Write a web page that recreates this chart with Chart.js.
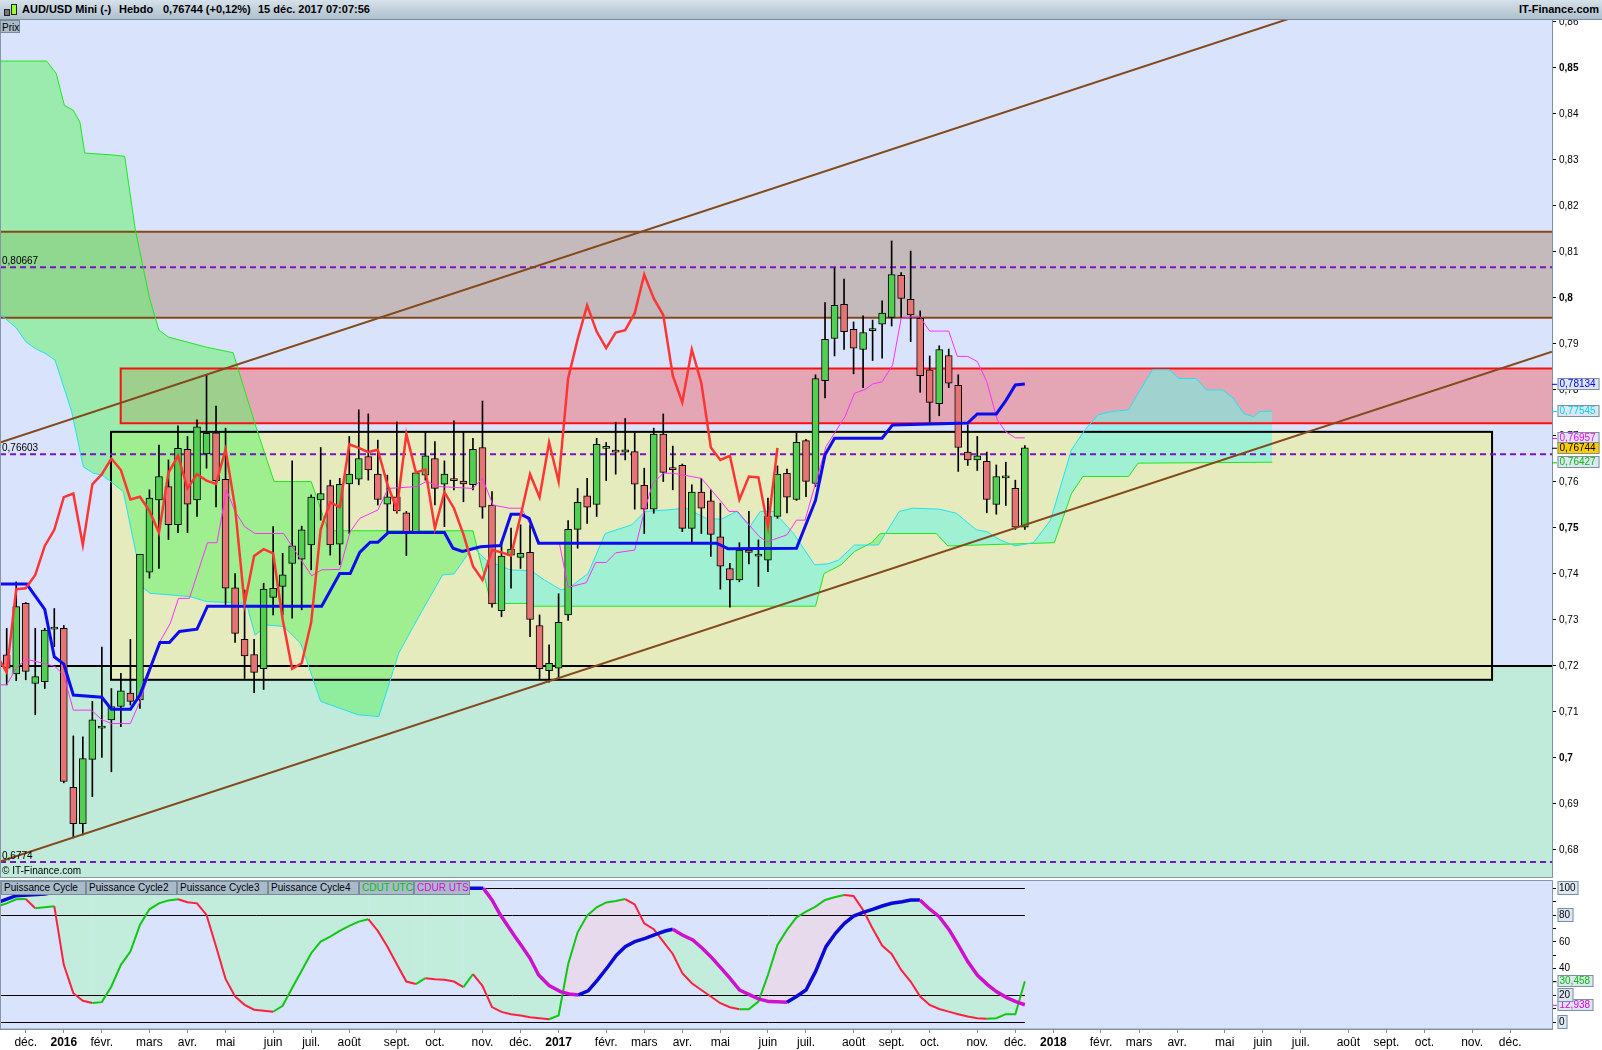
<!DOCTYPE html>
<html lang="fr">
<head>
<meta charset="utf-8">
<title>AUD/USD Mini - Hebdo</title>
<script src="https://cdn.jsdelivr.net/npm/chart.js@4.4.1/dist/chart.umd.min.js"></script>
<style>
  body { margin: 0; width: 1602px; height: 1050px; background: #fff; position: relative; overflow: hidden;
         font-family: "Liberation Sans", Arial, sans-serif; }
  #header { position: absolute; left: 0; top: 0; width: 1602px; height: 19px; border-bottom: 1px solid #7b8d9c;
            background: linear-gradient(#d6e1ea, #aebfcc); font-weight: bold; font-size: 11px; }
  #header span { position: absolute; top: 3px; white-space: nowrap; line-height: 13px; }
  .ico { position: absolute; border: 1px solid #222; }
  #prix { position: absolute; left: 0; top: 20px; width: 20px; height: 13px; background: #aabbc9; border: 1px solid #7a8c9b;
          font-size: 10px; line-height: 13px; padding-left: 1px; box-sizing: border-box; }
  canvas { position: absolute; left: 0; }
  #price { top: 20px; }
  #sep { position: absolute; left: 0; top: 877px; width: 1553px; height: 1px; background: #8596a5; }
  #cycle { top: 879px; }
  .leg { position: absolute; top: 881px; height: 14px; background: #a9bbc9; border: 1px solid #7a8c9b; box-sizing: border-box;
         font-size: 10px; line-height: 12px; padding-left: 2px; white-space: nowrap; }
</style>
</head>
<body>
<div id="header">
  <div class="ico" style="left:4px;top:9px;width:4px;height:5px;background:#777;"></div>
  <div class="ico" style="left:11px;top:4px;width:4px;height:9px;background:#9f3;"></div>
  <span style="left:22px;">AUD/USD Mini (-)</span>
  <span style="left:119px;">Hebdo</span>
  <span style="left:163px;">0,76744 (+0,12%)</span>
  <span style="left:258px;">15 déc. 2017 07:07:56</span>
  <span style="right:3px;">IT-Finance.com</span>
</div>
<canvas id="price" width="1602" height="857"></canvas>
<div id="prix">Prix</div>
<div id="sep"></div>
<canvas id="cycle" width="1602" height="171"></canvas>
<div class="leg" style="left:1px;width:85px;">Puissance Cycle</div>
<div class="leg" style="left:86px;width:91px;">Puissance Cycle2</div>
<div class="leg" style="left:177px;width:91px;">Puissance Cycle3</div>
<div class="leg" style="left:268px;width:91px;">Puissance Cycle4</div>
<div class="leg" style="left:359px;width:55px;color:#00c000;">CDUT UTC</div>
<div class="leg" style="left:414px;width:56px;color:#e000e0;">CDUR UTS</div>
<script>
// weekly candles, week 0 = 4 janv. 2016, first candle = 23 nov. 2015
const FIRST_WEEK = -6;
const opens = [
  .7224, .7183, .7336, .7162, .7166, .7280, .7282, .6936, .6857, .6997, .7065, .7083, .7112, .7141, .7126, .7404,
  .7561, .7590, .7507, .7671, .7561, .7661, .7707, .7606, .7370, .7258, .7225, .7194, .7349, .7373, .7423, .7432,
  .7463, .7561, .7592, .7465, .7596, .7606, .7655, .7617, .7552, .7568, .7533, .7490, .7615, .7651, .7595, .7604,
  .7602, .7594, .7675, .7550, .7320, .7441, .7436, .7447, .7288, .7190, .7195, .7311, .7497, .7570, .7551, .7673,
  .7666, .7665, .7666, .7593, .7541, .7704, .7628, .7636, .7499, .7578, .7559, .7481, .7412, .7387, .7452, .7439,
  .7430, .7525, .7619, .7562, .7690, .7597, .7820, .7912, .7986, .7932, .7888, .7929, .7943, .7958, .8049, .7997,
  .7956, .7844, .7770, .7875, .7810, .7665, .7648, .7645, .7551, .7609, .7586, .7502
];
const highs = [
  .7282, .7383, .7338, .7282, .7282, .7325, .7288, .7048, .7046, .7123, .7241, .7151, .7184, .7258, .7443, .7583,
  .7680, .7648, .7722, .7699, .7735, .7833, .7765, .7717, .7401, .7365, .7258, .7380, .7503, .7445, .7646, .7504,
  .7572, .7675, .7604, .7608, .7699, .7757, .7748, .7691, .7615, .7731, .7536, .7620, .7709, .7688, .7646, .7733,
  .7709, .7695, .7776, .7579, .7470, .7500, .7507, .7507, .7311, .7246, .7357, .7516, .7586, .7608, .7695, .7686,
  .7730, .7738, .7707, .7630, .7717, .7748, .7678, .7639, .7594, .7608, .7583, .7554, .7423, .7468, .7536, .7474,
  .7565, .7635, .7628, .7707, .7693, .7833, .7990, .8065, .8041, .7948, .7961, .7952, .7994, .8124, .8055, .8102,
  .7972, .7874, .7896, .7889, .7833, .7724, .7699, .7665, .7637, .7643, .7604, .7679
];
const lows = [
  .7159, .7168, .7170, .7094, .7151, .7242, .6946, .6826, .6833, .6916, .7001, .6970, .7068, .7115, .7108, .7391,
  .7412, .7475, .7490, .7490, .7525, .7630, .7546, .7333, .7251, .7173, .7142, .7149, .7311, .7311, .7304, .7322,
  .7409, .7517, .7441, .7420, .7488, .7594, .7604, .7550, .7492, .7532, .7440, .7489, .7604, .7550, .7503, .7583,
  .7557, .7583, .7521, .7328, .7307, .7369, .7412, .7264, .7171, .7165, .7175, .7299, .7456, .7510, .7525, .7603,
  .7617, .7648, .7541, .7488, .7532, .7601, .7583, .7492, .7470, .7488, .7438, .7367, .7328, .7383, .7422, .7373,
  .7405, .7521, .7533, .7560, .7568, .7590, .7783, .7874, .7888, .7835, .7805, .7864, .7869, .7939, .7958, .7905,
  .7795, .7730, .7744, .7805, .7623, .7636, .7625, .7533, .7530, .7549, .7497, .7497
];
const closes = [
  .7195, .7329, .7188, .7177, .7278, .7284, .6949, .6857, .6999, .7083, .7067, .7112, .7146, .7123, .7443, .7565,
  .7612, .7507, .7673, .7552, .7720, .7706, .7603, .7369, .7271, .7222, .7186, .7367, .7369, .7398, .7461, .7496,
  .7567, .7575, .7463, .7595, .7617, .7651, .7626, .7562, .7568, .7537, .7490, .7620, .7657, .7586, .7617, .7603,
  .7596, .7671, .7545, .7335, .7439, .7454, .7445, .7301, .7194, .7206, .7295, .7497, .7556, .7545, .7682, .7674,
  .7665, .7670, .7595, .7541, .7704, .7621, .7627, .7499, .7578, .7543, .7486, .7417, .7387, .7452, .7447, .7440,
  .7526, .7617, .7567, .7686, .7601, .7825, .7910, .7984, .7927, .7891, .7925, .7930, .7967, .8051, .7999, .7963,
  .7831, .7773, .7888, .7815, .7675, .7648, .7657, .7562, .7612, .7610, .7502, .7674
];
const CHIKOU_SHIFT = 26;

// Ichimoku lines: [week, price]
const tenkan = [[-6.7,.7159],[-6,.7159],[-5,.7195],[-4,.7215],[-2,.7205],[-0.93,.7199],[0,.7180],[1,.7104],[2.9,.7104],
  [4,.7083],[5,.7075],[7,.7075],[8,.7123],[10.1,.7253],[11.2,.7293],[12.05,.7347],[13.2,.7347],[15.1,.7468],[16.1,.7468],
  [17.1,.7583],[18,.7536],[19,.7503],[20.1,.7488],[23.1,.7488],[26.05,.7396],[27.1,.7409],[29,.7410],[30.1,.7492],
  [31.1,.7521],[33,.7539],[34.1,.7586],[37.1,.7590],[38.1,.7601],[39.5,.7590],[43,.7586],[44,.7608],[45.1,.7550],
  [46.8,.7543],[48.1,.7543],[50.05,.7467],[52.08,.7467],[53,.7371],[54.9,.7381],[55.9,.7425],[57,.7425],[58,.7446],
  [60,.7452],[61,.7536],[61.9,.7597],[63,.7619],[64,.7619],[65.9,.7612],[67,.7608],[69.1,.7557],[69.9,.7536],[70.8,.7536],
  [73.1,.7481],[73.9,.7470],[76,.7485],[77,.7517],[77.9,.7517],[80.1,.7677],[82.1,.7742],[83.1,.7793],[84.2,.7801],
  [85,.7813],[86,.7818],[87.1,.7854],[88,.7956],[89.9,.7961],[91,.7928],[93,.7928],[93.9,.7873],[95,.7873],[96,.7862],
  [97,.7818],[98.1,.7735],[99,.7709],[100,.7696],[101,.7696]];
const kijun = [[-6.7,.7378],[-3.9,.7378],[-2,.7323],[-1,.7220],[0,.7204],[1,.7137],[4,.7132],[5,.7106],[7,.7106],
  [8,.7137],[10.1,.7251],[11.1,.7251],[12.15,.7275],[14,.7280],[15.1,.7330],[27.1,.7330],[29,.7401],[30.1,.7401],
  [31.1,.7447],[32.2,.7469],[33,.7469],[34.1,.7490],[40,.7490],[40.9,.7456],[41.9,.7449],[43.8,.7459],[45.9,.7462],
  [47,.7530],[48,.7530],[48.9,.7521],[49.9,.7467],[68.6,.7467],[69.8,.7455],[77,.7456],[79,.7560],[80,.7659],
  [81,.7695],[86,.7695],[87.1,.7724],[95,.7728],[96,.7748],[98,.7748],[99,.7777],[100,.7811],[101,.7813]];
const senkouA = [[-6.7,.7965],[-5,.7935],[-4,.7905],[-3,.7890],[-2,.7880],[-0.92,.7865],[0.83,.7753],[2.05,.7633],
  [3.1,.7619],[4,.7615],[5,.7600],[6.26,.7579],[7.66,.7438],[8,.7376],[9.06,.7358],[11.5,.7354],[13.26,.7351],[15,.7340],
  [19.2,.7336],[20.1,.7267],[21.4,.7289],[23.1,.7286],[24.9,.7249],[27,.7123],[30.9,.7094],[33.1,.7090],[35.2,.7228],
  [37.3,.7307],[39.8,.7398],[41,.7400],[43,.7459],[44.4,.7430],[46.9,.7409],[49.1,.7407],[50.5,.7387],[52.3,.7365],
  [53.3,.7373],[55.1,.7401],[56.9,.7488],[59.7,.7507],[61.1,.7536],[63.3,.7539],[65.4,.7543],[67.5,.7521],[69.1,.7519],
  [70.7,.7536],[72.1,.7503],[73.2,.7536],[74.6,.7536],[76.7,.7488],[78.9,.7420],[80.3,.7422],[81.4,.7430],[83.1,.7463],
  [85.6,.7463],[87.8,.7536],[89.2,.7543],[92,.7541],[93.8,.7532],[95.9,.7496],[97,.7492],[98.4,.7474],[100,.7461],
  [101.9,.7468],[103.7,.7517],[105.9,.7670],[107.3,.7713],[108.7,.7746],[110.1,.7753],[111.9,.7757],[113,.7796],
  [114.4,.7844],[116.2,.7844],[117.2,.7825],[119,.7825],[120.1,.7800],[121.8,.7800],[122.9,.7782],[124,.7749],
  [125,.7742],[125.7,.7753],[127,.7754]];
const senkouB = [[-6.7,.8515],[-1.8,.8515],[-0.8,.8488],[0.06,.8419],[1,.8408],[1.7,.8382],[2.2,.8315],[5.1,.8311],
  [6.4,.8308],[7.5,.8150],[9,.8000],[10,.7930],[11,.7915],[15,.7893],[17.8,.7881],[18.5,.7833],[20.3,.7713],[22.1,.7601],
  [26,.7601],[27.8,.7494],[43,.7494],[44.9,.7336],[48.7,.7336],[49.4,.7330],[79,.7330],[79.9,.7401],[81.7,.7420],
  [83.1,.7449],[84.9,.7468],[85.8,.7488],[91.7,.7488],[92.9,.7461],[104.1,.7468],[105.9,.7575],[107.1,.7612],
  [111.9,.7612],[112.9,.7641],[127,.7643]];

// drawn objects: trend channel, zones and levels (week / price)
const upperTrend = [[-6.7,.7686],[156.4,.8795]];
const lowerTrend = [[-6.7,.6775],[156.4,.7883]];
const band = {low: .7957, high: .8144};
const resistance = {from: 5.98, low: .77276, high: .78465};
const rangeBox = {from: 4.96, to: 150.1, low: .7170, high: .7709};
const supportLevel = .7200;
const dashedLevels = [.80667, .76603, .6774];
const dashedLabels = ['0,80667', '0,76603', '0,6774'];
const priceTicks = [.68, .69, .70, .71, .72, .73, .74, .75, .76, .77, .78, .79, .80, .81, .82, .83, .84, .85, .86];
const lastValues = [.78134, .77545, .76957, .76427, .76744];

// cycle oscillator (lower panel): [week, value]
const cycleFast = [[-6.7,87.1],[-6,88.8],[-5,91.8],[-4,92.0],[-3,85.1],[-2,85.8],[-1,86.6],[0,42.8],[1,21.6],[2,15.9],
  [3,14.2],[4,14.9],[5,26.6],[6,42.8],[7,52.7],[8,72.6],[9,84.3],[10,88.8],[11,91.0],[12,91.8],[13,89.6],[14,88.8],
  [15,80.1],[16,56.5],[17,32.3],[18,19.2],[19,12.9],[20,9.2],[21,8.5],[22,7.7],[23,12.2],[24,25.4],[25,38.3],[26,51.5],
  [27,60.2],[28,63.9],[29,68.2],[30,71.9],[31,75.1],[32,76.9],[33,68.2],[34,56.5],[35,43.3],[36,30.3],[37,28.4],
  [38,32.8],[39,32.1],[40,31.6],[41,30.3],[42,26.1],[43,35.8],[44,27.1],[45,11.2],[46,7.6],[47,5.9],[48,4.9],[49,3.6],
  [50,2.9],[51,2.1],[52,4.9],[53,43.2],[54,67.1],[55,79.6],[56,85.8],[57,89.5],[58,90.5],[59,92.0],[60,88.0],[61,73.8],
  [62,69.4],[63,60.1],[64,50.9],[65,36.5],[66,29.0],[67,24.0],[68,19.1],[69,14.1],[70,11.1],[71,9.6],[72,9.6],[73,15.3],
  [74,35.2],[75,57.7],[76,68.9],[77,78.3],[78,82.6],[79,86.3],[80,91.3],[81,93.3],[82,95.0],[83,94.3],[84,83.8],[85,70.0],
  [86,57.2],[87,50.9],[88,39.0],[89,30.3],[90,19.1],[91,12.8],[92,9.8],[93,7.8],[94,5.9],[95,4.1],[96,2.9],[97,2.4],
  [98,2.9],[99,5.9],[100,5.9],[101,30.46]];
const cycleSlow = [[-6.7,90.0],[-5,94.5],[-2,95.8],[0,98.5],[3,100],[44.1,100],[45,91.3],[45.84,80.6],[47.3,65.1],
  [48.1,57.1],[49,47.7],[49.9,35.2],[51,27.3],[52.2,22.8],[53.1,21.0],[54.1,20.3],[55.1,23.3],[56.1,31.5],[57.2,41.5],
  [58.1,50.2],[59,56.4],[60,60.1],[61.1,62.6],[62.2,65.6],[63.2,68.1],[64,69.4],[65,65.1],[66.1,61.4],[67.1,55.2],
  [68,48.9],[69.1,40.2],[70,32.8],[71,24.0],[72.1,20.3],[73,17.3],[74.1,15.3],[75,15.1],[76,14.8],[77,19.1],[78,24.0],
  [79,37.7],[80.1,56.4],[81.1,66.4],[82.05,73.8],[83,79.3],[84,82.1],[85,84.3],[86,86.8],[87,88.8],[88.1,90.0],[89,91.3],
  [89.97,91.3],[90.9,85.1],[92,78.8],[93.05,68.9],[94.1,56.4],[95,45.2],[96,35.2],[97.1,27.8],[98,22.8],[99.1,18.3],
  [100.05,15.3],[101,12.94]];
const cycleLevels = [0, 20, 80, 100];
const cycleTicks = [0, 10, 20, 30, 40, 50, 60, 70, 80, 90, 100];
const cycleLast = [30.458, 12.938];
const LAST_WEEK = 101;

const monthNames = ['janv.', 'févr.', 'mars', 'avr.', 'mai', 'juin', 'juil.', 'août', 'sept.', 'oct.', 'nov.', 'déc.'];

// ---------- styles
const FONT = '"Liberation Sans", Arial, sans-serif';
const BG = '#d9e4fc';
const MINT = '#c0ebda';
const BROWN = '#84491a';
const X_MIN = -6.705, X_MAX = 156.4;
const P_MIN = 0.67413, P_MAX = 0.86043;

Chart.defaults.font.family = FONT;
Chart.defaults.color = '#000';

// x position of each monthly tick = first Monday of the month, in weeks from 4 janv. 2016
const ORIGIN = Date.UTC(2016, 0, 4);
const tickWeeks = [], tickLabels = [];
for (let yy = 2015, mm = 11; yy < 2019 && !(yy === 2018 && mm > 11); ) {
  const dow = new Date(Date.UTC(yy, mm, 1)).getUTCDay();
  const day = 1 + (1 - dow + 7) % 7;
  tickWeeks.push((Date.UTC(yy, mm, day) - ORIGIN) / (7 * 86400000));
  tickLabels.push(mm === 0 ? String(yy) : monthNames[mm]);
  mm++;
  if (mm > 11) { mm = 0; yy++; }
}

const pts = arr => arr.map(([x, y]) => ({x, y}));
const bodies = opens.map((o, i) => ({x: FIRST_WEEK + i, y: [o, closes[i]]}));
const wicks = lows.map((l, i) => ({x: FIRST_WEEK + i, y: [l, highs[i]]}));
const bodyColors = opens.map((o, i) => closes[i] >= o ? '#52cf52' : '#e77474');
const chikou = closes.map((c, i) => ({x: FIRST_WEEK + i - CHIKOU_SHIFT, y: c}));

function noPadding(s) { s.paddingTop = 0; s.paddingBottom = 0; s.paddingLeft = 0; s.paddingRight = 0; }

function boxedText(ctx, x, yMid, text, color, bg, width) {
  ctx.font = '10px ' + FONT;
  const w = width || Math.ceil(ctx.measureText(text).width) + 4;
  const top = Math.round(yMid) - 6;
  ctx.fillStyle = bg;
  ctx.fillRect(x, top, w, 12);
  ctx.strokeStyle = '#7d8e9e';
  ctx.lineWidth = 1;
  ctx.strokeRect(x + 0.5, top + 0.5, w - 1, 11);
  ctx.fillStyle = color;
  ctx.textBaseline = 'middle';
  ctx.textAlign = 'left';
  ctx.fillText(text, x + 2, top + 6.5);
}

const priceDecor = {
  id: 'priceDecor',
  beforeDraw(chart) {
    const {ctx, chartArea: a, scales: {x, y}} = chart;
    const py = v => y.getPixelForValue(v);
    ctx.save();
    ctx.fillStyle = BG;
    ctx.fillRect(a.left, a.top, a.width, a.height);
    ctx.fillStyle = MINT;
    ctx.fillRect(a.left, py(supportLevel), a.width, a.bottom - py(supportLevel));
    ctx.fillStyle = '#c4b9bb';
    ctx.fillRect(a.left, py(band.high), a.width, py(band.low) - py(band.high));
    ctx.fillStyle = '#e4a6b5';
    const rx = x.getPixelForValue(resistance.from);
    ctx.fillRect(rx, py(resistance.high), a.right - rx, py(resistance.low) - py(resistance.high));
    ctx.fillStyle = '#e5ebbd';
    const bx0 = x.getPixelForValue(rangeBox.from), bx1 = x.getPixelForValue(rangeBox.to);
    ctx.fillRect(bx0, py(rangeBox.high), bx1 - bx0, py(rangeBox.low) - py(rangeBox.high));
    ctx.restore();
  },
  beforeDatasetsDraw(chart) {
    const {ctx, chartArea: a, scales: {x, y}} = chart;
    const py = v => y.getPixelForValue(v);
    ctx.save();
    ctx.beginPath();
    ctx.rect(a.left, a.top, a.width, a.height);
    ctx.clip();
    ctx.lineWidth = 2;
    ctx.strokeStyle = BROWN;
    [band.low, band.high].forEach(v => {
      ctx.beginPath(); ctx.moveTo(a.left, py(v)); ctx.lineTo(a.right, py(v)); ctx.stroke();
    });
    ctx.strokeStyle = '#000';
    const bx0 = x.getPixelForValue(rangeBox.from), bx1 = x.getPixelForValue(rangeBox.to);
    ctx.strokeRect(bx0, py(rangeBox.high), bx1 - bx0, py(rangeBox.low) - py(rangeBox.high));
    ctx.beginPath(); ctx.moveTo(a.left, py(supportLevel)); ctx.lineTo(a.right, py(supportLevel)); ctx.stroke();
    ctx.strokeStyle = '#ff1010';
    const rx = x.getPixelForValue(resistance.from);
    ctx.beginPath();
    ctx.moveTo(a.right + 2, py(resistance.high));
    ctx.lineTo(rx, py(resistance.high));
    ctx.lineTo(rx, py(resistance.low));
    ctx.lineTo(a.right + 2, py(resistance.low));
    ctx.stroke();
    ctx.strokeStyle = '#7a12c8';
    ctx.setLineDash([6, 4]);
    dashedLevels.forEach(v => {
      ctx.beginPath(); ctx.moveTo(a.left, py(v)); ctx.lineTo(a.right, py(v)); ctx.stroke();
    });
    ctx.restore();
  },
  afterDraw(chart) {
    const {ctx, chartArea: a, scales: {y}} = chart;
    const py = v => y.getPixelForValue(v);
    ctx.save();
    ctx.font = '10px ' + FONT;
    ctx.fillStyle = '#000';
    ctx.textBaseline = 'bottom';
    dashedLevels.forEach((v, i) => ctx.fillText(dashedLabels[i], a.left + 2, py(v) - 1));
    ctx.textBaseline = 'middle';
    ctx.fillText('\u00a9 IT-Finance.com', a.left + 2, a.bottom - 6);
    ctx.strokeStyle = '#8596a5';
    ctx.lineWidth = 1;
    ctx.beginPath(); ctx.moveTo(a.left + 0.5, a.top); ctx.lineTo(a.left + 0.5, a.bottom); ctx.stroke();
    const markerText = ['#0000ff', '#00d8e8', '#ff00ff', '#00c000', '#000'];
    const markerBg = ['#dde7f3', '#dde7f3', '#dde7f3', '#dde7f3', '#ffcc00'];
    lastValues.forEach((v, i) => {
      ctx.strokeStyle = markerText[i];
      ctx.beginPath(); ctx.moveTo(a.right, py(v) + 0.5); ctx.lineTo(a.right + 5, py(v) + 0.5); ctx.stroke();
      boxedText(ctx, a.right + 5.5, py(v), v.toFixed(5).replace('.', ','), markerText[i], markerBg[i], 42);
    });
    ctx.restore();
  }
};

const line = (data, color, width, order, extra) => Object.assign({
  type: 'line', data, borderColor: color, borderWidth: width, pointRadius: 0, order, fill: false
}, extra || {});

new Chart(document.getElementById('price'), {
  type: 'bar',
  data: {
    datasets: [
      line(pts(senkouB), '#1ee81e', 1, 9),
      line(pts(senkouA), '#22e2f0', 1, 8, {fill: {target: 0, above: 'rgba(104,246,230,0.55)', below: 'rgba(102,241,107,0.55)'}}),
      {data: wicks, backgroundColor: '#000', barThickness: 1, grouped: false, order: 7},
      {data: bodies, backgroundColor: bodyColors, borderColor: '#000', borderWidth: 1, borderSkipped: false,
       barThickness: 7, minBarLength: 2, grouped: false, order: 6},
      line(pts(tenkan), '#ff2eff', 1, 3),
      line(pts(kijun), '#0c0cee', 3, 2),
      line(chikou, '#ff3535', 2.5, 1),
      line(pts(upperTrend), BROWN, 2, 0),
      line(pts(lowerTrend), BROWN, 2, 0)
    ]
  },
  options: {
    responsive: false, animation: false, devicePixelRatio: 1, events: [],
    layout: {padding: 0},
    plugins: {legend: {display: false}, tooltip: {enabled: false}, filler: {drawTime: 'beforeDatasetsDraw'}},
    scales: {
      x: {type: 'linear', min: X_MIN, max: X_MAX, offset: false, display: false, grid: {offset: false}},
      y: {
        position: 'right', min: P_MIN, max: P_MAX, beginAtZero: false,
        afterFit(s) { s.width = 50; noPadding(s); },
        afterBuildTicks(s) { s.ticks = priceTicks.map(v => ({value: v})); },
        ticks: {
          padding: 3, autoSkip: false,
          callback: v => String(Math.round(v * 100) / 100).replace('.', ','),
          font: c => ({family: FONT, size: 10,
            weight: c.tick && Math.round(c.tick.value * 100) % 5 === 0 ? 'bold' : 'normal'})
        },
        grid: {drawOnChartArea: false, drawTicks: true, tickLength: 4, color: '#000'},
        border: {color: '#7d8fa0'}
      }
    }
  },
  plugins: [priceDecor]
});

const cycleDecor = {
  id: 'cycleDecor',
  beforeDraw(chart) {
    const {ctx, chartArea: a, scales: {y}} = chart;
    ctx.save();
    ctx.fillStyle = BG;
    ctx.fillRect(a.left, a.top, a.width, a.height);
    const colors = ['#00c000', '#e000e0'];
    cycleLast.forEach((v, i) => {
      ctx.strokeStyle = colors[i];
      ctx.beginPath(); ctx.moveTo(a.right, y.getPixelForValue(v) + 0.5); ctx.lineTo(a.right + 5, y.getPixelForValue(v) + 0.5); ctx.stroke();
      boxedText(ctx, a.right + 5.5, y.getPixelForValue(v), v.toFixed(3).replace('.', ','), colors[i], '#dde7f3', 36);
    });
    cycleLevels.forEach(v => {
      ctx.font = '10px ' + FONT;
      const w = Math.ceil(ctx.measureText(String(v)).width) + 4;
      const top = Math.round(y.getPixelForValue(v)) - 7;
      ctx.fillStyle = '#dde7f3';
      ctx.fillRect(a.right + 5.5, top, w, 14);
      ctx.strokeStyle = '#7d8e9e';
      ctx.strokeRect(a.right + 6, top + 0.5, w - 1, 13);
    });
    ctx.restore();
  },
  beforeDatasetsDraw(chart) {
    const {ctx, chartArea: a, scales: {x, y}} = chart;
    ctx.save();
    ctx.strokeStyle = '#000';
    ctx.lineWidth = 1;
    const xEnd = x.getPixelForValue(LAST_WEEK);
    cycleLevels.forEach(v => {
      const yy = Math.round(y.getPixelForValue(v)) + 0.5;
      ctx.beginPath(); ctx.moveTo(a.left, yy); ctx.lineTo(xEnd, yy); ctx.stroke();
    });
    ctx.restore();
  },
  afterDraw(chart) {
    const {ctx, chartArea: a} = chart;
    ctx.save();
    ctx.strokeStyle = '#8596a5';
    ctx.lineWidth = 1;
    ctx.strokeRect(a.left + 0.5, a.top - 0.5, a.width, a.height + 0.5);
    ctx.restore();
  }
};

const upDown = (up, down) => c => c.p1.parsed.y >= c.p0.parsed.y ? up : down;

new Chart(document.getElementById('cycle'), {
  type: 'line',
  data: {
    datasets: [
      {data: pts(cycleFast), borderWidth: 2, pointRadius: 0, order: 1, borderColor: '#10c810',
       segment: {borderColor: upDown('#10c810', '#ff2040')},
       fill: {target: 1, above: '#e6daec', below: '#c2ecdb'}},
      {data: pts(cycleSlow), borderWidth: 3.5, pointRadius: 0, order: 0, borderColor: '#0a0ad8',
       segment: {borderColor: upDown('#0a0ad8', '#d010d0')}}
    ]
  },
  options: {
    responsive: false, animation: false, devicePixelRatio: 1, events: [],
    layout: {padding: {top: 2}},
    plugins: {legend: {display: false}, tooltip: {enabled: false}, filler: {drawTime: 'beforeDatasetsDraw'}},
    scales: {
      x: {
        type: 'linear', min: X_MIN, max: X_MAX, offset: false,
        afterFit(s) { s.height = 21; noPadding(s); },
        afterBuildTicks(s) { s.ticks = tickWeeks.map(v => ({value: v})); },
        ticks: {
          autoSkip: false, maxRotation: 0, minRotation: 0, padding: 2,
          callback: (v, i) => tickLabels[i],
          font: c => ({family: FONT, size: 12, weight: /^\d{4}$/.test(tickLabels[c.index] || '') ? 'bold' : 'normal'})
        },
        grid: {drawOnChartArea: false, drawTicks: true, tickLength: 4, color: '#7d8fa0'},
        border: {color: '#7d8fa0'}
      },
      y: {
        position: 'right', min: -5.2, max: 105.5,
        afterFit(s) { s.width = 50; noPadding(s); },
        afterBuildTicks(s) { s.ticks = cycleTicks.map(v => ({value: v})); },
        ticks: {padding: 3, autoSkip: false, font: {size: 10}, callback: v => v % 20 === 0 ? String(v) : ''},
        grid: {drawOnChartArea: false, drawTicks: true, tickLength: 4, color: '#000'},
        border: {color: '#7d8fa0'}
      }
    }
  },
  plugins: [cycleDecor]
});
</script>
</body>
</html>
